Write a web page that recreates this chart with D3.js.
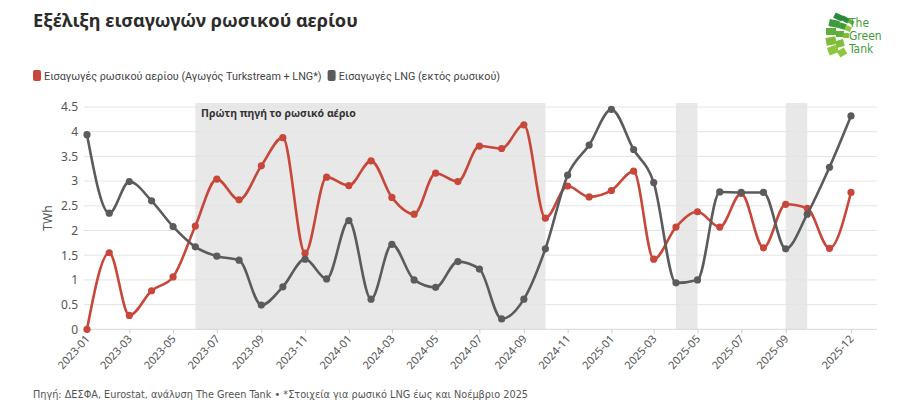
<!DOCTYPE html>
<html><head><meta charset="utf-8">
<script src="https://cdn.jsdelivr.net/npm/d3@7"></script>
<style>
body{margin:0;background:#fff;}
svg{display:block;font-family:"Noto Sans","Open Sans",sans-serif;}
</style></head>
<body><svg id="c" width="900" height="407"></svg>
<script>
const months = ["2023-01","2023-02","2023-03","2023-04","2023-05","2023-06","2023-07","2023-08","2023-09","2023-10","2023-11","2023-12",
"2024-01","2024-02","2024-03","2024-04","2024-05","2024-06","2024-07","2024-08","2024-09","2024-10","2024-11","2024-12",
"2025-01","2025-02","2025-03","2025-04","2025-05","2025-06","2025-07","2025-08","2025-09","2025-10","2025-11","2025-12"];
const russianGas = [0,1.55,0.28,0.78,1.06,2.09,3.04,2.62,3.31,3.88,1.54,3.08,
2.91,3.41,2.67,2.33,3.16,2.99,3.71,3.66,4.14,2.25,2.90,2.68,
2.81,3.20,1.42,2.07,2.38,2.07,2.75,1.65,2.53,2.45,1.64,2.77];
const lngOther = [3.94,2.35,2.99,2.60,2.08,1.67,1.48,1.40,0.49,0.86,1.42,1.02,
2.20,0.61,1.72,1.00,0.85,1.37,1.22,0.21,0.61,1.63,3.12,3.73,
4.45,3.64,2.97,0.94,1.00,2.78,2.77,2.77,1.63,2.33,3.28,4.32];
const tickLabels = ["2023-01","2023-03","2023-05","2023-07","2023-09","2023-11","2024-01","2024-03","2024-05","2024-07","2024-09","2024-11","2025-01","2025-03","2025-05","2025-07","2025-09","2025-12"];
const yTicks = [0,0.5,1,1.5,2,2.5,3,3.5,4,4.5];
const bands = [["2023-06","2024-10"],["2025-04","2025-05"],["2025-09","2025-10"]];
const seriesNames = ["Εισαγωγές ρωσικού αερίου (Αγωγός Turkstream + LNG*)","Εισαγωγές LNG (εκτός ρωσικού)"];
const colors = ["#c8473a","#5b5b5b"];

const svg = d3.select("#c");
const parse = d3.timeParse("%Y-%m");
const dates = months.map(parse);
const x = d3.scaleTime().domain([parse("2023-01"), parse("2025-12")]).range([87, 851]);
const y = d3.scaleLinear().domain([0, 4.5]).range([329.3, 107]);
const gridLeft = 84, gridRight = 877;

// Title
svg.append("text").attr("x",33).attr("y",27).attr("font-size",18.2).attr("font-weight",700).attr("fill","#2b2b2b")
  .text("Εξέλιξη εισαγωγών ρωσικού αερίου");

// Logo
const logo = svg.append("g");
const greens = ["#8dc63f","#7dbd3a","#5fae3a","#3f9a3a","#2a8a3c"];
[[828,46,10,8,-20],[826,37,10,8,-10],[826,28,10,7,0],[829,20,10,7,12],[834,14,9,6,25],
 [838,49,8,7,-30],[836,40,8,7,-15],[836,31,8,6,0],[838,23,8,6,15],[842,17,7,5,30],
 [845,26,6,5,20],[843,33,6,5,5],[848,20,6,4,35]].forEach((r,i)=>{
  logo.append("rect").attr("x",r[0]).attr("y",r[1]).attr("width",r[2]).attr("height",r[3])
   .attr("fill",greens[i%5]).attr("transform",`rotate(${r[4]},${r[0]+r[2]/2},${r[1]+r[3]/2})`);
});
["The","Green","Tank"].forEach((t,i)=>{
  logo.append("text").attr("x",849).attr("y",27+i*13).attr("font-size",12).attr("fill","#3f9d3a")
    .attr("font-family","'Liberation Sans Narrow','DejaVu Sans Condensed',sans-serif").text(t);
});

// Legend
const leg = svg.append("g");
let lx = 33;
seriesNames.forEach((n,i)=>{
  leg.append("rect").attr("x",lx).attr("y",70).attr("width",8).attr("height",11).attr("rx",2).attr("fill",colors[i]);
  const t = leg.append("text").attr("x",lx+11).attr("y",80).attr("font-size",10.8).attr("fill","#444")
    .attr("font-family","Roboto,sans-serif").text(n);
  lx += 11 + t.node().getComputedTextLength() + 6;
});

// Bands
svg.append("g").selectAll("rect").data(bands).join("rect")
  .attr("x",d=>x(parse(d[0]))).attr("width",d=>x(parse(d[1]))-x(parse(d[0])))
  .attr("y",103).attr("height",329.3-103).attr("fill","#e8e8e8");

// Grid
svg.append("g").selectAll("line").data(yTicks).join("line")
  .attr("x1",gridLeft).attr("x2",gridRight).attr("y1",d=>y(d)).attr("y2",d=>y(d))
  .attr("stroke",d=>d===0?"#d8d8d8":"#e4e4e4").attr("stroke-width",1);

// Y axis labels
const yAxis = d3.axisLeft(y).tickValues(yTicks).tickSize(0).tickPadding(0).tickFormat(d3.format("~g"));
const ya = svg.append("g").attr("transform","translate(78,0)").call(yAxis);
ya.select(".domain").remove();
ya.selectAll("text").attr("font-size",12).attr("fill","#555").attr("font-family","'Noto Sans',sans-serif");
svg.append("text").attr("transform","translate(52,218) rotate(-90)").attr("text-anchor","middle")
  .attr("font-size",12).attr("fill","#555").text("TWh");

// X axis
const xAxis = d3.axisBottom(x).tickValues(tickLabels.map(parse)).tickSize(4).tickFormat(d3.timeFormat("%Y-%m"));
const xa = svg.append("g").attr("transform","translate(0,329.3)").call(xAxis);
xa.select(".domain").remove();
xa.selectAll("line").attr("stroke","#ccc");
xa.selectAll("text").attr("font-size",11).attr("fill","#555").attr("font-family","'Noto Sans',sans-serif")
  .attr("text-anchor","end").attr("dy",0).attr("y",0)
  .attr("transform","translate(3,10) rotate(-48)");

// Annotation
svg.append("text").attr("x",201).attr("y",117).attr("font-size",10.5).attr("font-weight",700).attr("fill","#333")
  .text("Πρώτη πηγή το ρωσικό αέριο");

// Lines
const line = d3.line().x((d,i)=>x(dates[i])).y(d=>y(d)).curve(d3.curveMonotoneX);
[russianGas, lngOther].forEach((s,k)=>{
  const g = svg.append("g");
  g.append("path").attr("d",line(s)).attr("fill","none").attr("stroke",colors[k]).attr("stroke-width",2.6)
    .attr("stroke-linejoin","round").attr("stroke-linecap","round");
  g.selectAll("circle").data(s).join("circle").attr("cx",(d,i)=>x(dates[i])).attr("cy",d=>y(d)).attr("r",3.6).attr("fill",colors[k]);
});

// Footer
svg.append("text").attr("x",33).attr("y",398).attr("font-size",10.8).attr("fill","#555")
  .attr("font-family","'Liberation Sans Narrow','DejaVu Sans Condensed',sans-serif")
  .text("Πηγή: ΔΕΣΦΑ, Eurostat, ανάλυση The Green Tank • *Στοιχεία για ρωσικό LNG έως και Νοέμβριο 2025");
</script></body></html>
